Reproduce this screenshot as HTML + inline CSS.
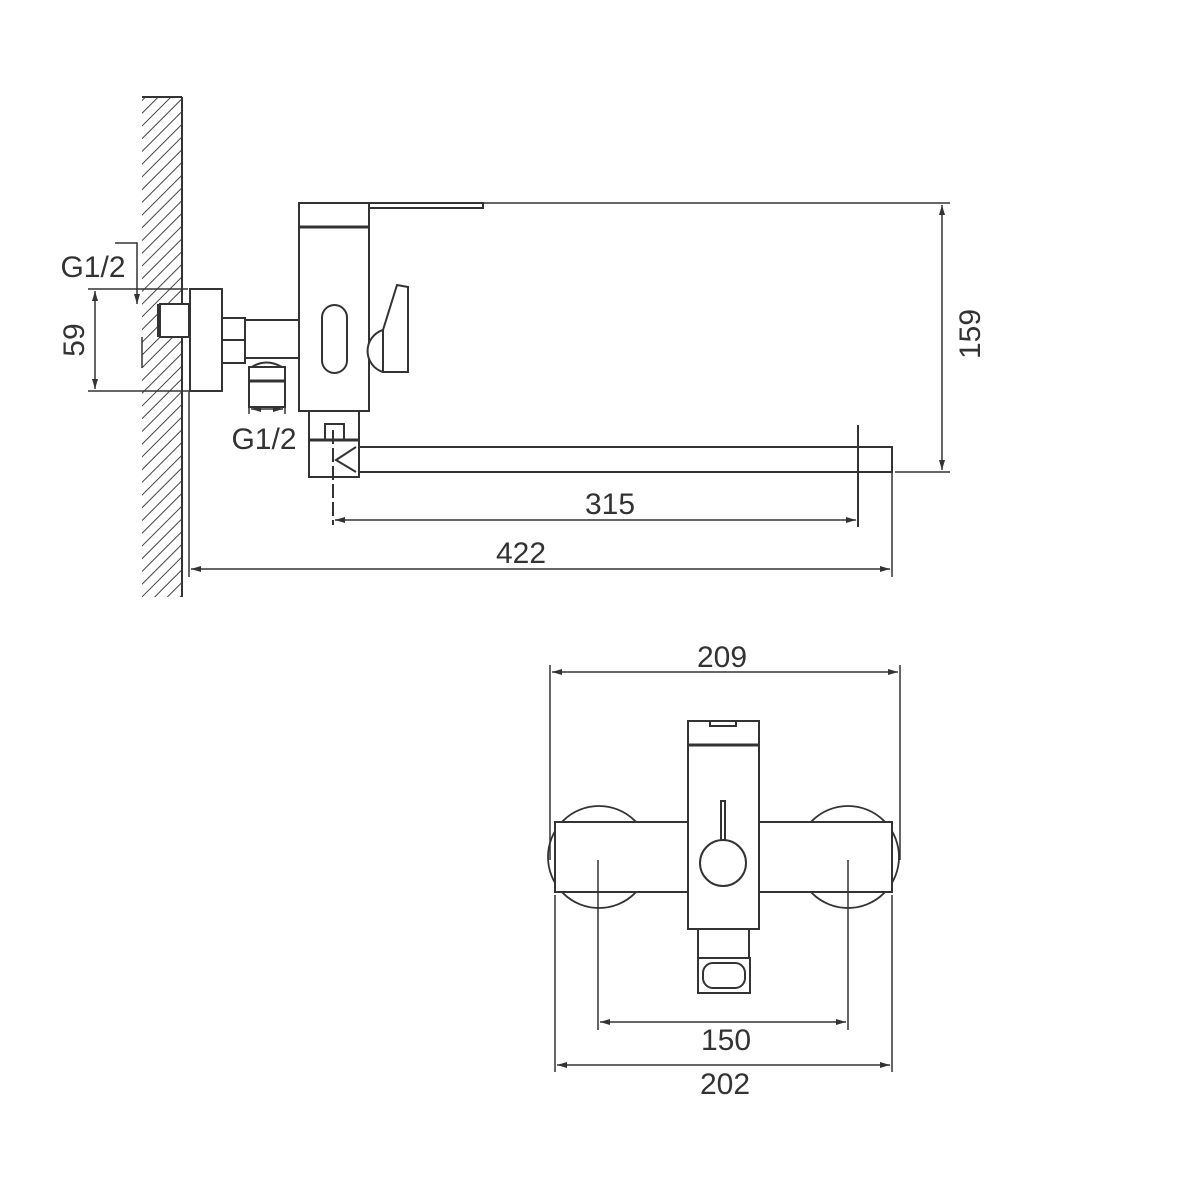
<!DOCTYPE html>
<html><head><meta charset="utf-8"><style>
html,body{margin:0;padding:0;background:#fff;}
svg{display:block}
text{font-family:"Liberation Sans",sans-serif;fill:#333;}
</style></head><body>
<svg width="1200" height="1200" viewBox="0 0 1200 1200" xmlns="http://www.w3.org/2000/svg">
<defs>
<pattern id="h" width="9" height="9" patternUnits="userSpaceOnUse" patternTransform="rotate(45)">
<line x1="0" y1="0" x2="0" y2="9" stroke="#444" stroke-width="2"/>
</pattern>
<marker id="a" viewBox="0 0 10 6" refX="10" refY="3" markerWidth="10" markerHeight="6" orient="auto-start-reverse" markerUnits="userSpaceOnUse">
<path d="M0,0 L10,3 L0,6 z" fill="#333"/>
</marker>
</defs>
<g stroke="#333" stroke-width="2" fill="none">
<rect x="142" y="97" width="40" height="500" fill="url(#h)" stroke="none"/>
<line x1="142" y1="97" x2="182" y2="97"/>
<line x1="182" y1="97" x2="182" y2="597"/>
<rect x="160" y="304" width="29" height="33" fill="#fff" stroke="#333"/>
<line x1="158" y1="304" x2="158" y2="337"/>
<rect x="190" y="289" width="32" height="102" fill="#fff"/>
<rect x="222" y="318" width="23" height="45" fill="#fff"/>
<line x1="222" y1="340" x2="245" y2="340"/>
<rect x="245" y="320" width="78" height="38" fill="#fff"/>
<path d="M252,367 Q266,358 282,367 Z" fill="#fff"/>
<rect x="249" y="367" width="36" height="40" fill="#fff"/>
<line x1="249" y1="381" x2="285" y2="381" stroke-width="3"/>
<rect x="299" y="203" width="70" height="208" fill="#fff"/>
<line x1="299" y1="227" x2="369" y2="227" stroke-width="3"/>
<path d="M369,203 L483,203 L483,208 L369,208"/>
<rect x="322" y="305" width="25" height="68" rx="12.5" fill="#fff"/>
<path d="M383,330 A22,22 0 0 0 383,372" fill="#fff"/>
<path d="M383,372 L408,372 L408,287 L397,285 L383,330 Z" fill="#fff"/>
<rect x="309" y="411" width="50" height="66" fill="#fff"/>
<rect x="325" y="424" width="19" height="16" fill="#fff"/>
<line x1="309" y1="440" x2="359" y2="440" stroke-width="3"/>
<path d="M359,447 L892,447 L892,472 L359,472"/>
<path d="M356,447 L336,460 L356,472"/>
<line x1="333" y1="430" x2="333" y2="525" stroke-dasharray="14,4"/>
<line x1="858" y1="425" x2="858" y2="527"/>
<line x1="848" y1="472" x2="868" y2="472"/>
<line x1="483" y1="203" x2="950" y2="203" stroke-width="1.5"/>
<line x1="895" y1="472" x2="950" y2="472" stroke-width="1.5"/>
<line x1="942" y1="205" x2="942" y2="470" stroke-width="1.5" marker-start="url(#a)" marker-end="url(#a)"/>
<line x1="335" y1="520" x2="856" y2="520" stroke-width="1.5" marker-start="url(#a)" marker-end="url(#a)"/>
<line x1="189" y1="390" x2="189" y2="577" stroke-width="1.5"/>
<line x1="892" y1="472" x2="892" y2="577" stroke-width="1.5"/>
<line x1="191" y1="569" x2="890" y2="569" stroke-width="1.5" marker-start="url(#a)" marker-end="url(#a)"/>
<line x1="88" y1="289" x2="188" y2="289" stroke-width="1.5"/>
<line x1="88" y1="391" x2="188" y2="391" stroke-width="1.5"/>
<line x1="95" y1="291" x2="95" y2="389" stroke-width="1.5" marker-start="url(#a)" marker-end="url(#a)"/>
<path d="M115,243 L137,243 L137,300" stroke-width="1.5"/>
<line x1="137" y1="300" x2="137" y2="304" stroke-width="1.5" marker-end="url(#a)"/>
<line x1="142" y1="337" x2="142" y2="368" stroke-width="1.5"/>
<line x1="249" y1="400" x2="249" y2="414" stroke-width="1.5"/>
<line x1="285" y1="400" x2="285" y2="414" stroke-width="1.5"/>
<line x1="251" y1="409" x2="283" y2="409" stroke-width="1.5" marker-start="url(#a)" marker-end="url(#a)"/>
<circle cx="599" cy="857" r="51" fill="#fff" stroke-width="1.8"/>
<circle cx="848" cy="857" r="51" fill="#fff" stroke-width="1.8"/>
<rect x="555" y="822" width="337" height="70" fill="#fff"/>
<rect x="688" y="721" width="71" height="208" fill="#fff"/>
<line x1="688" y1="745" x2="759" y2="745" stroke-width="3"/>
<rect x="710" y="721" width="26" height="5"/>
<circle cx="723" cy="863" r="23" fill="#fff"/>
<rect x="721" y="801" width="4" height="39" fill="#fff"/>
<path d="M698,929 L698,958 M749,929 L749,958"/>
<rect x="698" y="958" width="52" height="35" fill="#fff"/>
<rect x="703" y="963" width="42" height="25" rx="10"/>
<line x1="550" y1="665" x2="550" y2="860" stroke-width="1.5"/>
<line x1="900" y1="665" x2="900" y2="860" stroke-width="1.5"/>
<line x1="552" y1="672" x2="898" y2="672" stroke-width="1.5" marker-start="url(#a)" marker-end="url(#a)"/>
<line x1="598" y1="860" x2="598" y2="1030" stroke-width="1.5"/>
<line x1="848" y1="860" x2="848" y2="1030" stroke-width="1.5"/>
<line x1="600" y1="1022" x2="846" y2="1022" stroke-width="1.5" marker-start="url(#a)" marker-end="url(#a)"/>
<line x1="555" y1="895" x2="555" y2="1072" stroke-width="1.5"/>
<line x1="892" y1="895" x2="892" y2="1072" stroke-width="1.5"/>
<line x1="557" y1="1065" x2="890" y2="1065" stroke-width="1.5" marker-start="url(#a)" marker-end="url(#a)"/>
</g>
<g font-size="30" text-anchor="middle">
<text x="93" y="277">G1/2</text>
<text x="264" y="449">G1/2</text>
<text x="610" y="514">315</text>
<text x="521" y="563">422</text>
<text x="722" y="667">209</text>
<text x="726" y="1050">150</text>
<text x="725" y="1094">202</text>
<text transform="translate(980,334) rotate(-90)">159</text>
<text transform="translate(84,340) rotate(-90)">59</text>
</g>
</svg>
</body></html>
